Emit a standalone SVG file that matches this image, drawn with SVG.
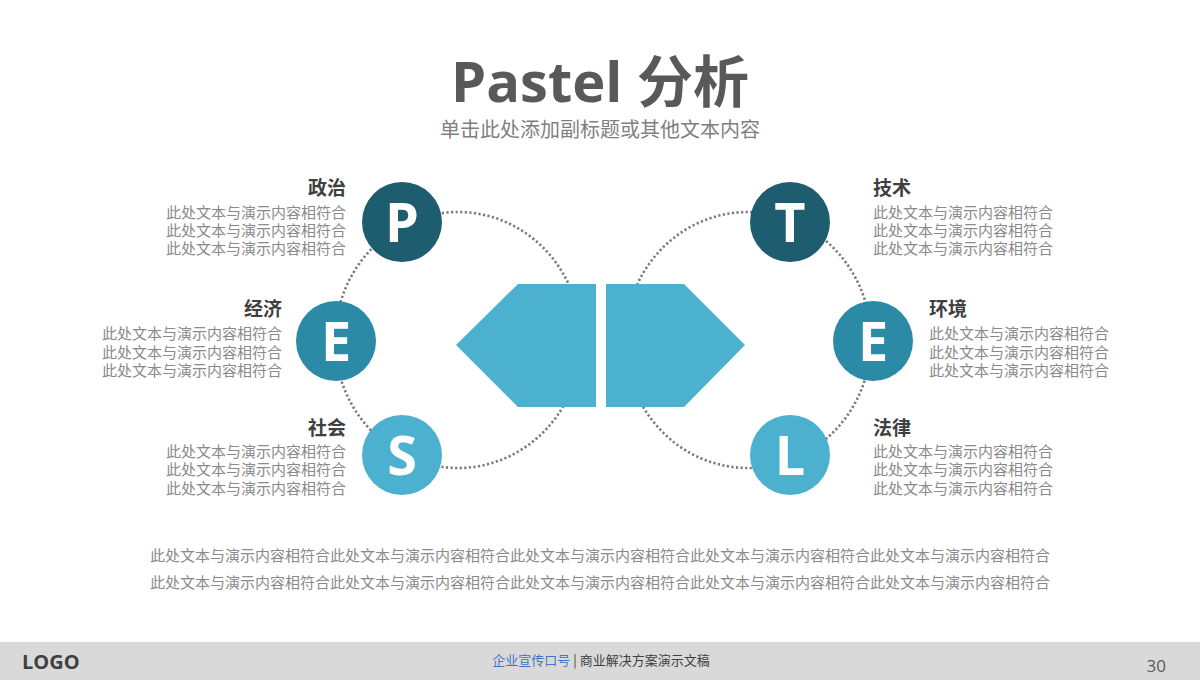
<svg xmlns="http://www.w3.org/2000/svg" width="1200" height="680" viewBox="0 0 1200 680">
<style>
.f{font-family:"Open Sans","Noto Sans CJK SC",sans-serif}
.h{font-family:"Noto Sans CJK SC",sans-serif;font-weight:bold;font-size:19px;fill:#404040}
.b{font-family:"Noto Sans CJK SC",sans-serif;font-size:15px;fill:#8a8a8a}
.l{font-family:"Open Sans","Liberation Sans",sans-serif;font-weight:bold;font-size:54px;fill:#fff;text-anchor:middle}
.dot{fill:none;stroke:#7a7a7a;stroke-width:2.6;stroke-dasharray:2.2 2.4}
.shape{fill:#4bb1cf}
</style>
<rect width="1200" height="680" fill="#fff"/>
<text x="600" y="102" class="f" font-size="56" font-weight="bold" fill="#595959" text-anchor="middle">Pastel 分析</text>
<text x="600" y="137" font-family="Noto Sans CJK SC,sans-serif" font-size="20" fill="#7f7f7f" text-anchor="middle">单击此处添加副标题或其他文本内容</text>
<g id="connectors">
<ellipse class="dot" cx="458" cy="340" rx="123" ry="128"/>
<ellipse class="dot" cx="748" cy="340" rx="123" ry="128"/>
</g>
<g id="arrow-left"><polygon class="shape" points="518,284 596,284 596,407 518,407 456,345"/></g>
<g id="arrow-right"><polygon class="shape" points="606,284 684,284 745,345 684,407 606,407"/></g>
<g id="node-P">
<circle cx="402" cy="222" r="40" fill="#1e5c6f"/>
<text x="402" y="242" class="l">P</text>
<text x="346" y="195" class="h" text-anchor="end">政治</text>
<text class="b" text-anchor="end"><tspan x="346" y="218">此处文本与演示内容相符合</tspan><tspan x="346" y="236">此处文本与演示内容相符合</tspan><tspan x="346" y="254">此处文本与演示内容相符合</tspan></text>
</g>
<g id="node-E1">
<circle cx="336" cy="341" r="40" fill="#2b8aa6"/>
<text x="336" y="361" class="l">E</text>
<text x="282" y="316" class="h" text-anchor="end">经济</text>
<text class="b" text-anchor="end"><tspan x="282" y="339">此处文本与演示内容相符合</tspan><tspan x="282" y="358">此处文本与演示内容相符合</tspan><tspan x="282" y="376">此处文本与演示内容相符合</tspan></text>
</g>
<g id="node-S">
<circle cx="402" cy="455" r="40" fill="#4bb1cf"/>
<text x="402" y="475" class="l">S</text>
<text x="346" y="435" class="h" text-anchor="end">社会</text>
<text class="b" text-anchor="end"><tspan x="346" y="457">此处文本与演示内容相符合</tspan><tspan x="346" y="475">此处文本与演示内容相符合</tspan><tspan x="346" y="494">此处文本与演示内容相符合</tspan></text>
</g>
<g id="node-T">
<circle cx="790" cy="222" r="40" fill="#1e5c6f"/>
<text x="790" y="242" class="l">T</text>
<text x="873" y="195" class="h">技术</text>
<text class="b"><tspan x="873" y="218">此处文本与演示内容相符合</tspan><tspan x="873" y="236">此处文本与演示内容相符合</tspan><tspan x="873" y="254">此处文本与演示内容相符合</tspan></text>
</g>
<g id="node-E2">
<circle cx="873" cy="341" r="40" fill="#2b8aa6"/>
<text x="873" y="361" class="l">E</text>
<text x="929" y="316" class="h">环境</text>
<text class="b"><tspan x="929" y="339">此处文本与演示内容相符合</tspan><tspan x="929" y="358">此处文本与演示内容相符合</tspan><tspan x="929" y="376">此处文本与演示内容相符合</tspan></text>
</g>
<g id="node-L">
<circle cx="790" cy="455" r="40" fill="#4bb1cf"/>
<text x="790" y="475" class="l">L</text>
<text x="873" y="435" class="h">法律</text>
<text class="b"><tspan x="873" y="457">此处文本与演示内容相符合</tspan><tspan x="873" y="475">此处文本与演示内容相符合</tspan><tspan x="873" y="494">此处文本与演示内容相符合</tspan></text>
</g>
<g id="bottom-text">
<text x="600" y="561" class="b" text-anchor="middle">此处文本与演示内容相符合此处文本与演示内容相符合此处文本与演示内容相符合此处文本与演示内容相符合此处文本与演示内容相符合</text>
<text x="600" y="588" class="b" text-anchor="middle">此处文本与演示内容相符合此处文本与演示内容相符合此处文本与演示内容相符合此处文本与演示内容相符合此处文本与演示内容相符合</text>
</g>
<g id="footer">
<rect x="0" y="642" width="1200" height="38" fill="#d9d9d9"/>
<text x="22" y="669" font-family="Open Sans,sans-serif" font-weight="bold" font-size="20" fill="#404040">LOGO</text>
<text x="601" y="665" font-family="Noto Sans CJK SC,sans-serif" font-size="13" text-anchor="middle"><tspan fill="#4472c4">企业宣传口号</tspan><tspan fill="#404040">  |  商业解决方案演示文稿</tspan></text>
<text x="1166" y="672" font-family="Open Sans,sans-serif" font-size="17" fill="#595959" text-anchor="end">30</text>
</g>
</svg>
